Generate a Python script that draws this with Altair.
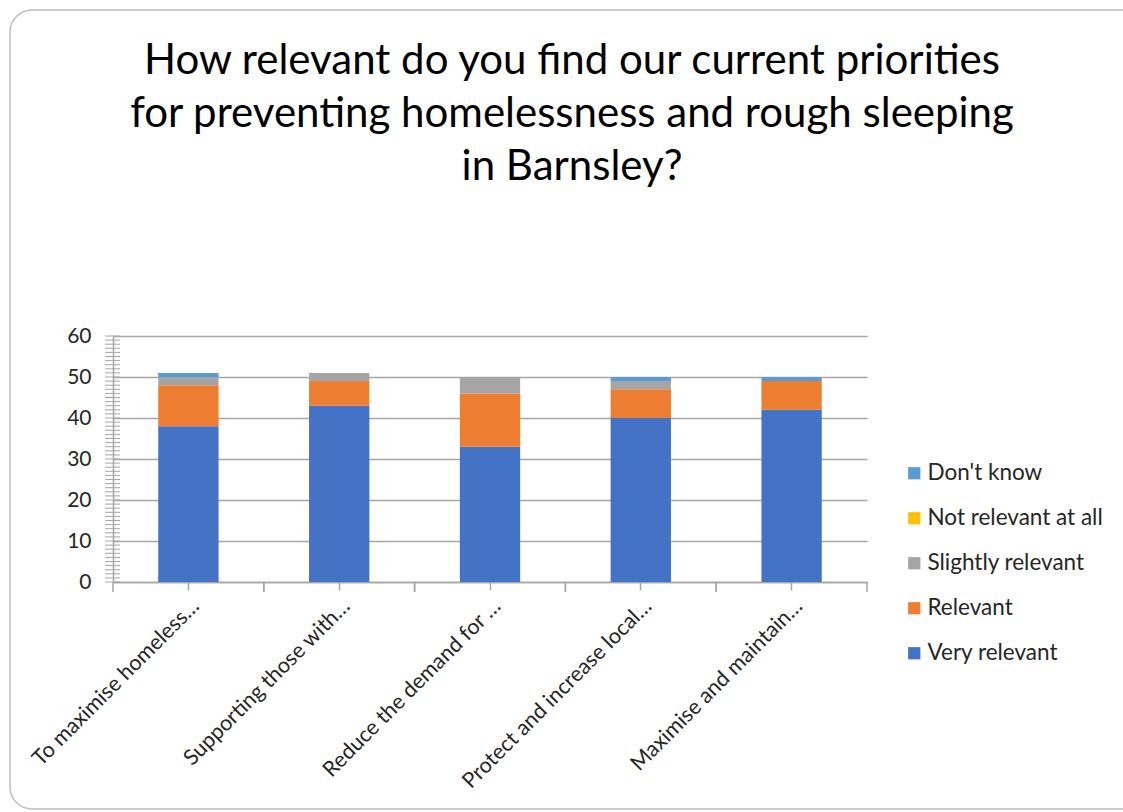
import altair as alt
import pandas as pd

categories = ["To maximise homeless…", "Supporting those with…", "Reduce the demand for …",
              "Protect and increase local…", "Maximise and maintain…"]
very_relevant = [38, 43, 33, 40, 42]
relevant = [10, 6, 13, 7, 7]
slightly_relevant = [2, 2, 4, 2, 0]
not_relevant = [0, 0, 0, 0, 0]
dont_know = [1, 0, 0, 1, 1]

series_names = ["Very relevant", "Relevant", "Slightly relevant", "Not relevant at all", "Don't know"]
series_values = [very_relevant, relevant, slightly_relevant, not_relevant, dont_know]
legend_order = ["Don't know", "Not relevant at all", "Slightly relevant", "Relevant", "Very relevant"]
colors = ["#5B9BD5", "#FFC000", "#A5A5A5", "#ED7D31", "#4472C4"]
y_minor_ticks = list(range(0, 61))

rows = []
for si, (name, vals) in enumerate(zip(series_names, series_values)):
    for c, v in zip(categories, vals):
        rows.append({"category": c, "series": name, "value": v, "order": si})
df = pd.DataFrame(rows)
ticks_df = pd.DataFrame({"t": y_minor_ticks})
cat_df = pd.DataFrame({"category": categories})

FONT = "Lato"
TEXT = "#262626"
W, H = 754, 246
STEP = W / 5

xscale = alt.Scale(domain=categories, paddingInner=0.6, paddingOuter=0.3)

bars = alt.Chart(df).mark_bar().encode(
    x=alt.X("category:N", sort=categories, scale=xscale,
            axis=alt.Axis(title=None, labelAngle=-45, labelFontSize=21.5, labelColor=TEXT,
                          labelFont=FONT, tickSize=8, tickColor="#A6A6A6", labelLimit=0,
                          domainColor="#A6A6A6", domainWidth=1.5, tickWidth=1.5,
                          labelPadding=5, grid=False)),
    y=alt.Y("value:Q", stack="zero", scale=alt.Scale(domain=[0, 60]),
            axis=alt.Axis(title=None, values=[0, 10, 20, 30, 40, 50, 60], labelFontSize=21,
                          labelColor=TEXT, labelFont=FONT, tickSize=0, labelPadding=22,
                          domain=True, domainColor="#A6A6A6", domainWidth=1.5,
                          grid=True, gridColor="#A6A6A6", gridWidth=1.5)),
    color=alt.Color("series:N", scale=alt.Scale(domain=legend_order, range=colors),
                    legend=alt.Legend(title=None, orient="none", legendX=790, legendY=126,
                                      symbolType="square", symbolSize=150, symbolStrokeWidth=0,
                                      labelFontSize=22.5, labelFont=FONT, labelColor=TEXT,
                                      labelLimit=0, rowPadding=22, labelOffset=2)),
    order=alt.Order("order:Q"),
)

minor = alt.Chart(ticks_df).mark_rule(color="#A6A6A6", strokeWidth=1).encode(
    y=alt.Y("t:Q", scale=alt.Scale(domain=[0, 60])),
    x=alt.value(-8), x2=alt.value(7),
)

bound_left = alt.Chart(cat_df).mark_rule(color="#A6A6A6", strokeWidth=1.5, xOffset=-STEP / 2).encode(
    x=alt.X("category:N", sort=categories, scale=xscale),
    y=alt.value(H), y2=alt.value(H + 10),
)
bound_right = alt.Chart(cat_df).mark_rule(color="#A6A6A6", strokeWidth=1.5, xOffset=STEP / 2).encode(
    x=alt.X("category:N", sort=categories, scale=xscale),
    y=alt.value(H), y2=alt.value(H + 10),
)

border = alt.Chart(cat_df.head(1)).mark_rect(
    fill="transparent", stroke="#BFBFBF", strokeWidth=1.5, cornerRadius=22
).encode(
    x=alt.value(-103), x2=alt.value(1060), y=alt.value(-326), y2=alt.value(473)
)

chart = alt.layer(border, bars, minor, bound_left, bound_right).properties(
    width=W, height=H,
    title=alt.Title(
        ["How relevant do you find our current priorities",
         "for preventing homelessness and rough sleeping",
         "in Barnsley?"],
        fontSize=42, font=FONT, fontWeight="normal", color="#000000",
        anchor="middle", frame="group", dx=82, dy=190, offset=10, lineHeight=53,
    ),
    autosize=alt.AutoSizeParams(type="none"),
    padding={"left": 113, "top": 336, "right": 256, "bottom": 230},
).configure_view(stroke=None).configure_axis(labelFont=FONT)

chart.save("out.html", embed_options={"renderer": "svg", "actions": False})
